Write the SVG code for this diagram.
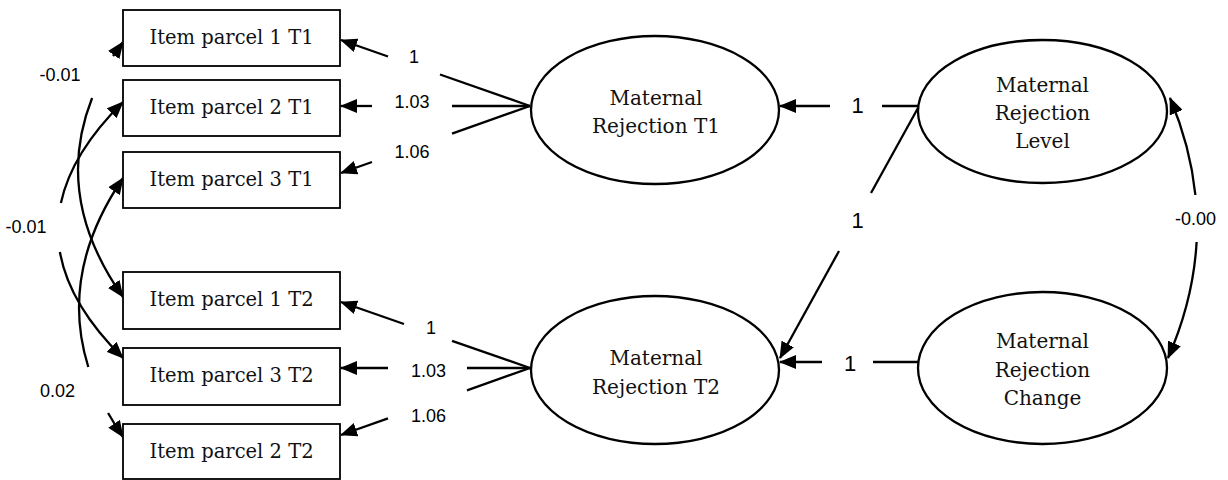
<svg xmlns="http://www.w3.org/2000/svg" width="1228" height="480" viewBox="0 0 1228 480">
<style>
.box{fill:#fff;stroke:#000;stroke-width:1.8}
.ell{fill:#fff;stroke:#000;stroke-width:2.3}
.nt{font-family:"DejaVu Serif","Liberation Serif",serif;font-size:19.5px;fill:#111;text-anchor:middle}
.et{font-family:"DejaVu Serif","Liberation Serif",serif;font-size:20px;fill:#111;text-anchor:middle}
.lb{font-family:"Liberation Sans",Arial,sans-serif;font-size:18px;fill:#000;text-anchor:middle}
.lb2{font-family:"Liberation Sans",Arial,sans-serif;font-size:22px;fill:#000;text-anchor:middle}
.c{fill:none;stroke:#000;stroke-width:2.3}
.a{fill:none;stroke:#000;stroke-width:2.3;marker-end:url(#ah)}
</style>
<defs>
<marker id="ah" markerUnits="userSpaceOnUse" markerWidth="17" markerHeight="14" refX="16" refY="7" orient="auto">
<path d="M0,0 L17,7 L0,14 z" fill="#000"/>
</marker>
</defs>
<rect width="1228" height="480" fill="#fff"/>

<g id="connectors">
<!-- T1 loadings -->
<line class="c" x1="530" y1="106" x2="440" y2="74.5"/>
<line class="a" x1="388" y1="56.5" x2="341" y2="40"/>
<line class="c" x1="530" y1="106" x2="452" y2="106"/>
<line class="a" x1="372" y1="106" x2="341" y2="106"/>
<line class="c" x1="530" y1="106" x2="452" y2="133.6"/>
<line class="a" x1="372" y1="162" x2="341" y2="173"/>
<!-- T2 loadings -->
<line class="c" x1="530" y1="368" x2="452" y2="340.8"/>
<line class="a" x1="404" y1="324" x2="341" y2="302"/>
<line class="c" x1="530" y1="368" x2="467" y2="368"/>
<line class="a" x1="388" y1="368" x2="341" y2="368"/>
<line class="c" x1="530" y1="368" x2="467" y2="390.3"/>
<line class="a" x1="388" y1="418.3" x2="341" y2="435"/>
<!-- growth factors -->
<line class="c" x1="918" y1="106" x2="882" y2="106"/>
<line class="a" x1="830" y1="106" x2="780" y2="106"/>
<line class="c" x1="918" y1="108" x2="871" y2="193"/>
<line class="a" x1="839" y1="251" x2="780" y2="358"/>
<line class="c" x1="918" y1="362" x2="873" y2="362"/>
<line class="a" x1="822" y1="362" x2="780" y2="362"/>
<!-- factor covariance -->
<path class="a" d="M1195.4,195 Q1190.5,146.5 1170,98"/>
<path class="a" d="M1196.6,242 Q1193.4,300 1168,358"/>
<!-- residual covariances -->
<line class="a" x1="113" y1="56" x2="123" y2="42"/>
<path class="a" d="M92.1,98 Q52.8,197.5 123,297"/>
<path class="a" d="M60.9,203 Q71.7,152.6 123,102"/>
<path class="a" d="M59.9,252 Q69.2,305 123,358"/>
<path class="a" d="M88.3,367 Q58.8,272.6 123,178"/>
<path class="a" d="M108.1,413 Q114.9,425 123,437"/>
</g>

<g id="labels">
<text class="lb" x="414" y="63">1</text>
<text class="lb" x="412" y="108">1.03</text>
<text class="lb" x="412" y="158">1.06</text>
<text class="lb" x="431" y="334">1</text>
<text class="lb" x="428.5" y="377">1.03</text>
<text class="lb" x="428.5" y="422">1.06</text>
<text class="lb2" x="857.5" y="113">1</text>
<text class="lb2" x="857.5" y="228">1</text>
<text class="lb2" x="850" y="371">1</text>
<text class="lb" x="1195.5" y="225">-0.00</text>
<text class="lb" x="60" y="81">-0.01</text>
<text class="lb" x="26" y="233">-0.01</text>
<text class="lb" x="57.5" y="397">0.02</text>
</g>

<g id="ip1t1"><rect class="box" x="123" y="10" width="217" height="56"/><text class="nt" x="231.5" y="44">Item parcel 1 T1</text></g>
<g id="ip2t1"><rect class="box" x="123" y="80" width="217" height="56"/><text class="nt" x="231.5" y="114">Item parcel 2 T1</text></g>
<g id="ip3t1"><rect class="box" x="123" y="152" width="217" height="56"/><text class="nt" x="231.5" y="186">Item parcel 3 T1</text></g>
<g id="ip1t2"><rect class="box" x="123" y="272" width="217" height="57"/><text class="nt" x="231.5" y="306">Item parcel 1 T2</text></g>
<g id="ip3t2"><rect class="box" x="123" y="348" width="217" height="57"/><text class="nt" x="231.5" y="382">Item parcel 3 T2</text></g>
<g id="ip2t2"><rect class="box" x="123" y="424" width="217" height="55"/><text class="nt" x="231.5" y="458">Item parcel 2 T2</text></g>

<g id="mrt1"><ellipse class="ell" cx="655" cy="110" rx="124" ry="74"/><text class="et" x="656" y="105">Maternal</text><text class="et" x="656" y="133">Rejection T1</text></g>
<g id="mrt2"><ellipse class="ell" cx="655" cy="370" rx="124" ry="74"/><text class="et" x="656" y="365">Maternal</text><text class="et" x="656" y="394">Rejection T2</text></g>
<g id="level"><ellipse class="ell" cx="1042.5" cy="111.5" rx="124.5" ry="71.5"/><text class="et" x="1042.5" y="92">Maternal</text><text class="et" x="1042.5" y="120">Rejection</text><text class="et" x="1042.5" y="148">Level</text></g>
<g id="change"><ellipse class="ell" cx="1042.5" cy="368" rx="124.5" ry="76"/><text class="et" x="1042.5" y="348">Maternal</text><text class="et" x="1042.5" y="377">Rejection</text><text class="et" x="1042.5" y="405">Change</text></g>
</svg>
